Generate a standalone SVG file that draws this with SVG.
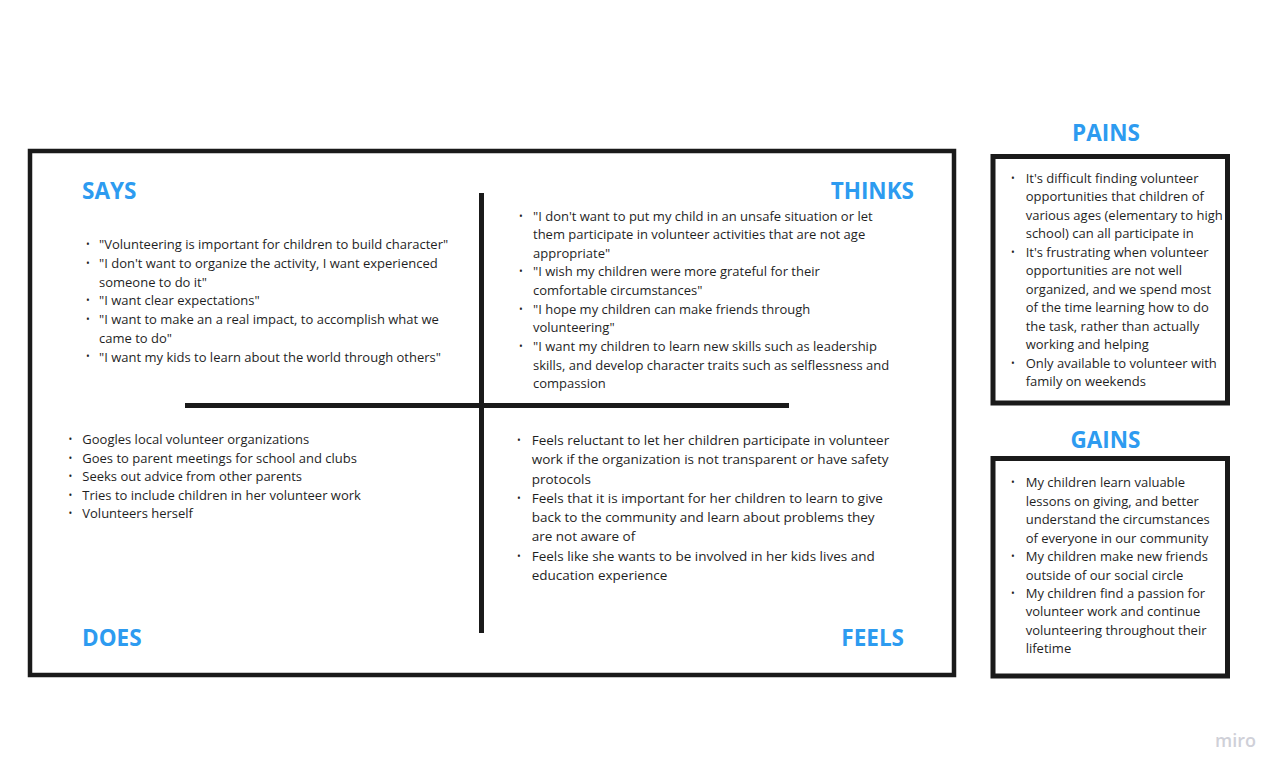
<svg xmlns="http://www.w3.org/2000/svg" width="1286" height="777" viewBox="0 0 1286 777">
<style>
.h{font-family:"Open Sans","Liberation Sans",sans-serif;font-weight:700;font-size:22.5px;fill:#2d9bf0}
.t{font-family:"Open Sans","Liberation Sans",sans-serif;font-size:13px;fill:#1f1f1f}
.b{font-family:"Open Sans","Liberation Sans",sans-serif;font-size:10px;fill:#1f1f1f}
.box{fill:#fff;stroke:#1a1a1a;stroke-width:4.5}
.ln{stroke:#1a1a1a;stroke-width:5;fill:none}
</style>
<rect width="1286" height="777" fill="#fff"/>
<g id="frame"><rect class="box" x="30" y="151" width="924" height="524"/></g>
<g id="connectors">
<line class="ln" x1="481.5" y1="193" x2="481.5" y2="633"/>
<line class="ln" x1="185" y1="405.5" x2="789" y2="405.5"/>
</g>
<g id="says">
<text class="h" x="82" y="199">SAYS</text>
<g class="b"><text x="86" y="248">•</text><text x="86" y="267">•</text><text x="86" y="304">•</text><text x="86" y="323">•</text><text x="86" y="360">•</text></g>
<text class="t"><tspan x="99" y="249.3">"Volunteering is important for children to build character"</tspan><tspan x="99" y="268">"I don't want to organize the activity, I want experienced</tspan><tspan x="99" y="286.7">someone to do it"</tspan><tspan x="99" y="305.4">"I want clear expectations"</tspan><tspan x="99" y="324.1">"I want to make an a real impact, to accomplish what we</tspan><tspan x="99" y="342.8">came to do"</tspan><tspan x="99" y="361.5">"I want my kids to learn about the world through others"</tspan></text>
</g>
<g id="thinks">
<text class="h" x="914" y="199" text-anchor="end">THINKS</text>
<g class="b"><text x="519" y="219.5">•</text><text x="519" y="275.4">•</text><text x="519" y="312.7">•</text><text x="519" y="350">•</text></g>
<text class="t"><tspan x="533" y="220.5">"I don't want to put my child in an unsafe situation or let</tspan><tspan x="533" y="239.1">them participate in volunteer activities that are not age</tspan><tspan x="533" y="257.8">appropriate"</tspan><tspan x="533" y="276.4">"I wish my children were more grateful for their</tspan><tspan x="533" y="295">comfortable circumstances"</tspan><tspan x="533" y="313.7">"I hope my children can make friends through</tspan><tspan x="533" y="332.3">volunteering"</tspan><tspan x="533" y="351">"I want my children to learn new skills such as leadership</tspan><tspan x="533" y="369.6">skills, and develop character traits such as selflessness and</tspan><tspan x="533" y="388.3">compassion</tspan></text>
</g>
<g id="does">
<text class="h" x="82" y="646">DOES</text>
<g class="b"><text x="68.5" y="443">•</text><text x="68.5" y="461.6">•</text><text x="68.5" y="480.2">•</text><text x="68.5" y="498.8">•</text><text x="68.5" y="517.4">•</text></g>
<text class="t"><tspan x="82.3" y="444">Googles local volunteer organizations</tspan><tspan x="82.3" y="462.6">Goes to parent meetings for school and clubs</tspan><tspan x="82.3" y="481.2">Seeks out advice from other parents</tspan><tspan x="82.3" y="499.8">Tries to include children in her volunteer work</tspan><tspan x="82.3" y="518.4">Volunteers herself</tspan></text>
</g>
<g id="feels">
<text class="h" x="904" y="646" text-anchor="end">FEELS</text>
<g class="b"><text x="517" y="444">•</text><text x="517" y="501.8">•</text><text x="517" y="559.6">•</text></g>
<text class="t" style="font-size:13.5px"><tspan x="531.7" y="445">Feels reluctant to let her children participate in volunteer</tspan><tspan x="531.7" y="464.3">work if the organization is not transparent or have safety</tspan><tspan x="531.7" y="483.6">protocols</tspan><tspan x="531.7" y="502.8">Feels that it is important for her children to learn to give</tspan><tspan x="531.7" y="522.1">back to the community and learn about problems they</tspan><tspan x="531.7" y="541.4">are not aware of</tspan><tspan x="531.7" y="560.7">Feels like she wants to be involved in her kids lives and</tspan><tspan x="531.7" y="580">education experience</tspan></text>
</g>
<g id="pains">
<text class="h" x="1106" y="141" text-anchor="middle">PAINS</text>
<rect class="box" x="993" y="156.5" width="234.5" height="246.5" style="stroke-width:5"/>
<g class="b"><text x="1011" y="181.7">•</text><text x="1011" y="255.7">•</text><text x="1011" y="366.7">•</text></g>
<text class="t"><tspan x="1025.7" y="182.7">It's difficult finding volunteer</tspan><tspan x="1025.7" y="201.2">opportunities that children of</tspan><tspan x="1025.7" y="219.7">various ages (elementary to high</tspan><tspan x="1025.7" y="238.2">school) can all participate in</tspan><tspan x="1025.7" y="256.7">It's frustrating when volunteer</tspan><tspan x="1025.7" y="275.2">opportunities are not well</tspan><tspan x="1025.7" y="293.7">organized, and we spend most</tspan><tspan x="1025.7" y="312.2">of the time learning how to do</tspan><tspan x="1025.7" y="330.7">the task, rather than actually</tspan><tspan x="1025.7" y="349.2">working and helping</tspan><tspan x="1025.7" y="367.7">Only available to volunteer with</tspan><tspan x="1025.7" y="386.2">family on weekends</tspan></text>
</g>
<g id="gains">
<text class="h" x="1105.5" y="447.5" text-anchor="middle">GAINS</text>
<rect class="box" x="993" y="458.5" width="234.5" height="217.5" style="stroke-width:5"/>
<g class="b"><text x="1011" y="486.3">•</text><text x="1011" y="560.1">•</text><text x="1011" y="597">•</text></g>
<text class="t"><tspan x="1025.7" y="487.3">My children learn valuable</tspan><tspan x="1025.7" y="505.7">lessons on giving, and better</tspan><tspan x="1025.7" y="524.2">understand the circumstances</tspan><tspan x="1025.7" y="542.6">of everyone in our community</tspan><tspan x="1025.7" y="561.1">My children make new friends</tspan><tspan x="1025.7" y="579.5">outside of our social circle</tspan><tspan x="1025.7" y="598">My children find a passion for</tspan><tspan x="1025.7" y="616.4">volunteer work and continue</tspan><tspan x="1025.7" y="634.9">volunteering throughout their</tspan><tspan x="1025.7" y="653.3">lifetime</tspan></text>
</g>
<g id="logo"><text x="1215" y="747" style="font-family:'Open Sans','Liberation Sans',sans-serif;font-size:18px;font-weight:600;fill:#cfd0d8">miro</text></g>
</svg>
